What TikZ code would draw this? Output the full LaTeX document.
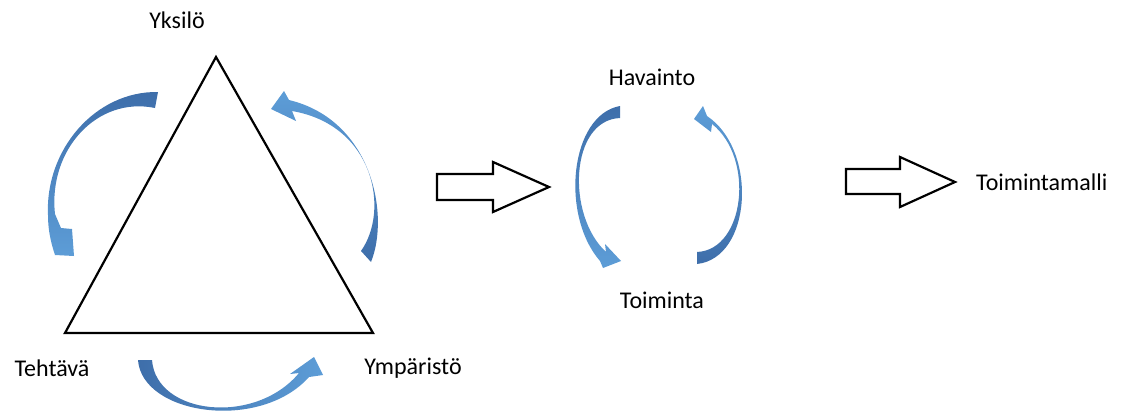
\documentclass[tikz,border=0pt]{standalone}
\usepackage{fontspec}
\setmainfont{Carlito}
\usepackage{tikz}
\usetikzlibrary{positioning}
\definecolor{arrdark}{RGB}{62,110,170}
\definecolor{arrlight}{RGB}{93,157,215}

\begin{document}
\begin{tikzpicture}[x=1pt, y=-1pt]
% STYLES
\tikzset{%
    term/.style={%
        inner sep=0pt, font=\fontsize{24}{29}\selectfont
    },
    blockarrow/.style={draw=black, line width=2.2pt, fill=white, line join=miter},
    curvedarrow/.style={draw=none}
}
\useasboundingbox (0,0) rectangle (1134,412);
% Triangle
\coordinate (top) at (216,57);
\coordinate (left) at (65,333);
\coordinate (right) at (373,333);
\draw[line width=2.2pt, line join=miter] (top) -- (left) -- (right) -- cycle;
% Labels
\node [term] (yksilo) at (177,20) {Yksilö};
\node [term] (tehtava) at (52,368) {Tehtävä};
\node [term] (ymparisto) at (413,368) {Ympäristö};
\node [term] (havainto) at (652,77) {Havainto};
\node [term] (toiminta) at (662,300) {Toiminta};
% Curved arrows round the triangle
\path[curvedarrow, top color=arrdark, bottom color=arrlight]
    (158,92) -- (155,108) .. controls (97,96) and (48,150) .. (55,214)
    -- (61,228) -- (72,229) -- (74,256) -- (55,255)
    .. controls (50,240) and (48,228) .. (48,215)
    .. controls (45,150) and (95,91) .. (158,92) -- cycle;
\path[curvedarrow, top color=arrlight, bottom color=arrdark]
    (361,251) -- (371,262) .. controls (390,215) and (372,120) .. (289,100)
    -- (284,91) -- (271,109) -- (296,121) -- (292,111)
    .. controls (374,125) and (390,210) .. (361,251) -- cycle;
\path[curvedarrow, left color=arrdark, right color=arrlight]
    (138,360) .. controls (142,415) and (260,432) .. (309,377)
    -- (323,375) -- (314,357) -- (290,374) -- (299,373)
    .. controls (255,426) and (156,415) .. (152,360) -- cycle;
% Cycle arrows
\path[curvedarrow, top color=arrdark, bottom color=arrlight]
    (620,106) .. controls (570,115) and (560,215) .. (600,261)
    -- (603,268) -- (621,261) -- (605,244) -- (606,252)
    .. controls (566,215) and (570,120) .. (620,118) -- cycle;
\path[curvedarrow, top color=arrlight, bottom color=arrdark]
    (697,264) .. controls (752,258) and (758,150) .. (707,116)
    -- (703,106) -- (694,119) -- (711,132) -- (712,124)
    .. controls (755,158) and (745,250) .. (697,252) -- cycle;
% Block arrows
\draw[blockarrow] (437,174) -- (493,174) -- (493,162) -- (549,187)
    -- (493,212) -- (493,200) -- (437,200) -- cycle;
\draw[blockarrow] (846,169) -- (900,169) -- (900,157) -- (955,182)
    -- (900,207) -- (900,194) -- (846,194) -- cycle;
\coordinate (tip) at (955,182);
\node [term, right=21pt of tip] (malli) {Toimintamalli};
\end{tikzpicture}
\end{document}
